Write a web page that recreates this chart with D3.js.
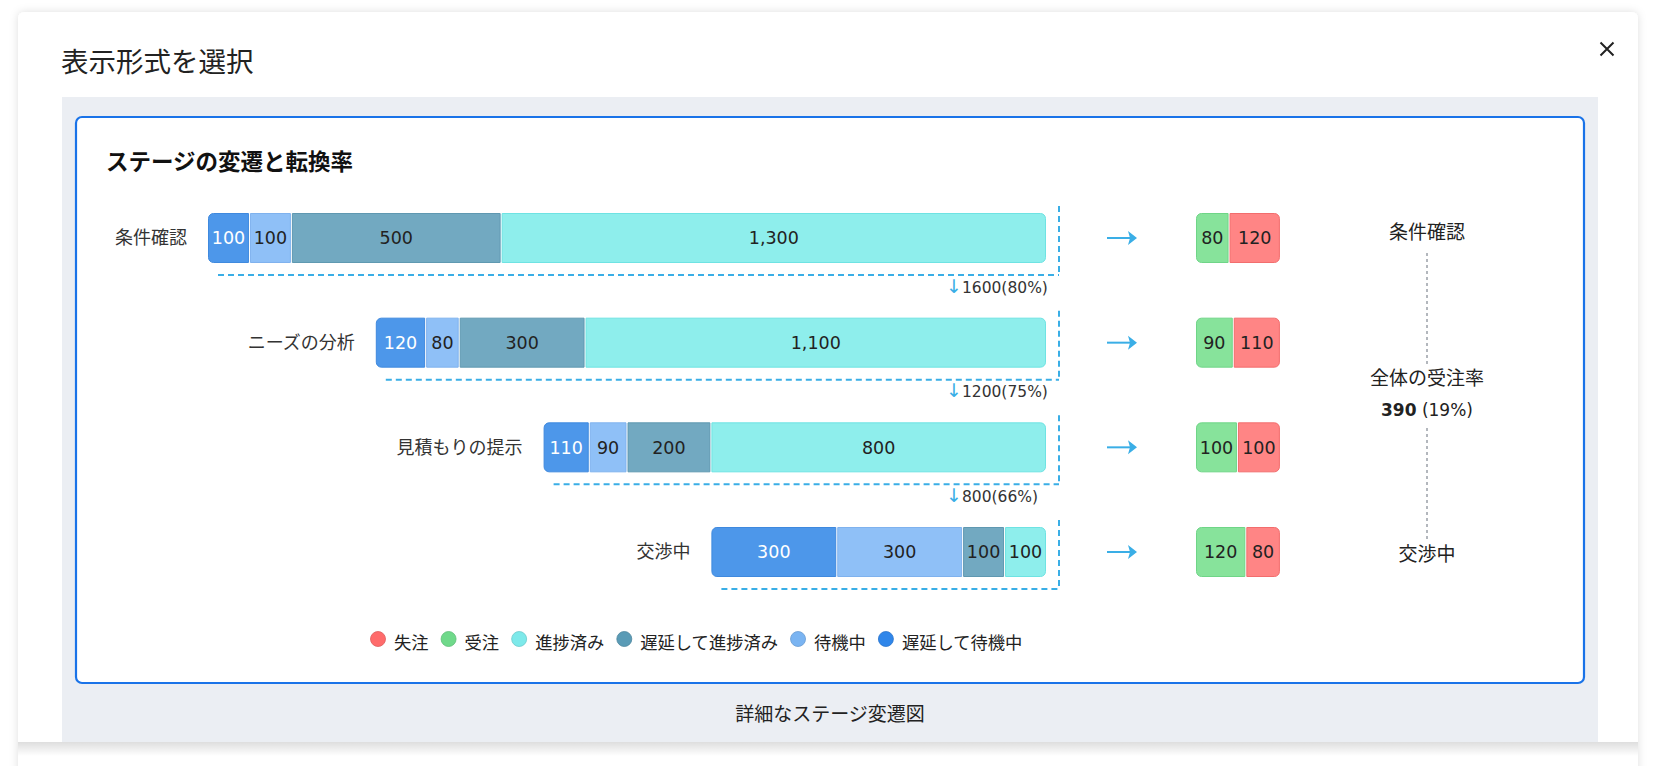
<!DOCTYPE html>
<html><head><meta charset="utf-8">
<script src="https://cdn.jsdelivr.net/npm/d3@7"></script>
<style>
html,body{margin:0;padding:0;background:#fff;overflow:hidden;}
svg{display:block;font-family:"Noto Sans CJK JP","Noto Sans",sans-serif;}
.num{font-family:"DejaVu Sans","Noto Sans CJK JP",sans-serif;}
</style></head><body>
<svg id="c" width="1656" height="766"></svg>
<script>
// ---- data ----
const stages = ["条件確認", "ニーズの分析", "見積もりの提示", "交渉中"];
const delayedWaiting = [100, 120, 110, 300];   // 遅延して待機中
const waiting = [100, 80, 90, 300];            // 待機中
const delayedProgressed = [500, 300, 200, 100];// 遅延して進捗済み
const progressed = [1300, 1100, 800, 100];     // 進捗済み
const won = [80, 90, 100, 120];                // 受注
const lost = [120, 110, 100, 80];              // 失注
const conversionCounts = [1600, 1200, 800];
const conversionRates = ["80%", "75%", "66%"];
const overallWon = 390;
const overallRate = "19%";
const overallTitle = "全体の受注率";
const pageTitle = "表示形式を選択";
const chartTitle = "ステージの変遷と転換率";
const footerText = "詳細なステージ変遷図";
const legendNames = ["失注", "受注", "進捗済み", "遅延して進捗済み", "待機中", "遅延して待機中"];

// ---- styles ----
const segFill = ["#4d97ea", "#8fc0f7", "#72a9c1", "#8eeeec"];
const segStroke = ["#3f89de", "#7fb2ee", "#5f98b1", "#6ee3e3"];
const segText = ["#ffffff", "#222", "#222", "#222"];
const wonFill = "#87e39b", wonStroke = "#6fd587";
const lostFill = "#ff8585", lostStroke = "#f26d6d";
const legendColors = ["#ff6b6b", "#6fd98a", "#7de9ea", "#5a9bb6", "#7ab4f2", "#2f86ea"];
const accent = "#3aaee6";

const svg = d3.select("#c");
const defs = svg.append("defs");
const f = defs.append("filter").attr("id", "sh").attr("x", "-5%").attr("y", "-5%").attr("width", "110%").attr("height", "110%");
f.append("feDropShadow").attr("dx", 0).attr("dy", 0).attr("stdDeviation", 4).attr("flood-color", "#000").attr("flood-opacity", 0.13);
const g1 = defs.append("linearGradient").attr("id", "bs").attr("x1", 0).attr("y1", 0).attr("x2", 0).attr("y2", 1);
g1.append("stop").attr("offset", 0).attr("stop-color", "#000").attr("stop-opacity", 0.13);
g1.append("stop").attr("offset", 1).attr("stop-color", "#000").attr("stop-opacity", 0);

// card
svg.append("rect").attr("x", 18).attr("y", 12).attr("width", 1620).attr("height", 790).attr("rx", 6).attr("fill", "#fff").attr("filter", "url(#sh)");
svg.append("text").attr("x", 61).attr("y", 72).attr("font-size", 27.5).attr("fill", "#222").text(pageTitle);
// close
const cx = 1607, cy = 49, cs = 6.5;
svg.append("path").attr("d", `M${cx-cs},${cy-cs}L${cx+cs},${cy+cs}M${cx+cs},${cy-cs}L${cx-cs},${cy+cs}`).attr("stroke", "#222").attr("stroke-width", 2);

// gray area
svg.append("rect").attr("x", 62).attr("y", 97).attr("width", 1536).attr("height", 645).attr("fill", "#ebeef3");
svg.append("rect").attr("x", 18).attr("y", 742).attr("width", 1620).attr("height", 14).attr("fill", "url(#bs)");
// blue box
svg.append("rect").attr("x", 76).attr("y", 117).attr("width", 1508).attr("height", 566).attr("rx", 6)
  .attr("fill", "#fff").attr("stroke", "#1a73e8").attr("stroke-width", 2.2);
svg.append("text").attr("x", 106).attr("y", 170).attr("font-size", 22.5).attr("font-weight", "bold").attr("fill", "#111").text(chartTitle);

// ---- scales ----
const totals = stages.map((s, i) => delayedWaiting[i] + waiting[i] + delayedProgressed[i] + progressed[i]);
const x = d3.scaleLinear().domain([0, d3.max(totals)]).range([0, 839]);
const xRight = 1047;
const y = d3.scaleBand().domain(stages).range([213, 577]).paddingInner(1 - 50 / 104.7).paddingOuter(0);
const bh = y.bandwidth();
const fmt = d3.format(",");

function rr(x0, y0, w, h, rl, rr_) {
  return `M${x0+rl},${y0}H${x0+w-rr_}` + (rr_ ? `A${rr_},${rr_} 0 0 1 ${x0+w},${y0+rr_}` : "") +
    `V${y0+h-rr_}` + (rr_ ? `A${rr_},${rr_} 0 0 1 ${x0+w-rr_},${y0+h}` : "") +
    `H${x0+rl}` + (rl ? `A${rl},${rl} 0 0 1 ${x0},${y0+h-rl}` : "") +
    `V${y0+rl}` + (rl ? `A${rl},${rl} 0 0 1 ${x0+rl},${y0}` : "") + "Z";
}

const seriesVals = [delayedWaiting, waiting, delayedProgressed, progressed];
const dash = "6,4";
const vLineX = 1059;
const rows = svg.append("g");
stages.forEach((s, i) => {
  const top = y(s);
  const start = xRight - x(totals[i]);
  // label
  rows.append("text").attr("x", start - 21).attr("y", top + bh / 2).attr("dy", "0.35em")
    .attr("text-anchor", "end").attr("font-size", 18).attr("fill", "#333").text(s);
  // segments
  let cum = 0;
  seriesVals.forEach((arr, k) => {
    const v = arr[i];
    const x0 = start + x(cum);
    const w = x(v);
    const rl = k === 0 ? 5 : 0, rrr = k === seriesVals.length - 1 ? 5 : 0;
    rows.append("path").attr("d", rr(x0 + 0.5, top + 0.5, w - 2, bh - 1, rl, rrr))
      .attr("fill", segFill[k]).attr("stroke", segStroke[k]).attr("stroke-width", 1);
    rows.append("text").attr("class", "num").attr("x", x0 + w / 2 - 0.5).attr("y", top + bh / 2).attr("dy", "0.36em")
      .attr("text-anchor", "middle").attr("font-size", 17.5).attr("fill", segText[k]).text(fmt(v));
    cum += v;
  });
  // dashed bracket
  rows.append("line").attr("x1", vLineX).attr("x2", vLineX).attr("y1", top - 7).attr("y2", top + bh + 12)
    .attr("stroke", accent).attr("stroke-width", 2).attr("stroke-dasharray", dash);
  rows.append("line").attr("x1", start + 10).attr("x2", vLineX).attr("y1", top + bh + 12).attr("y2", top + bh + 12)
    .attr("stroke", accent).attr("stroke-width", 2).attr("stroke-dasharray", dash);
  // conversion label
  if (i < conversionCounts.length) {
    const t = rows.append("text").attr("class", "num").attr("x", 946).attr("y", top + bh + 24).attr("dy", "0.36em").attr("font-size", 15.5).attr("fill", "#333");
    t.append("tspan").attr("fill", accent).attr("font-size", 19).text("↓");
    t.append("tspan").text(`${conversionCounts[i]}(${conversionRates[i]})`);
  }
  // arrow right
  const ay = top + bh / 2;
  rows.append("line").attr("x1", 1107).attr("x2", 1131).attr("y1", ay).attr("y2", ay).attr("stroke", accent).attr("stroke-width", 2);
  rows.append("path").attr("d", `M1128,${ay-7}L1137,${ay}L1128,${ay+7}L1130,${ay}Z`).attr("fill", accent);
  // won/lost
  const ws = 1196;
  const ww = x(won[i]), lw = x(lost[i]);
  rows.append("path").attr("d", rr(ws + 0.5, top + 0.5, ww - 2, bh - 1, 5, 0)).attr("fill", wonFill).attr("stroke", wonStroke);
  rows.append("text").attr("class", "num").attr("x", ws + ww / 2 - 0.5).attr("y", top + bh / 2).attr("dy", "0.36em").attr("text-anchor", "middle")
    .attr("font-size", 17.5).attr("fill", "#222").text(fmt(won[i]));
  rows.append("path").attr("d", rr(ws + ww + 0.5, top + 0.5, lw - 1, bh - 1, 0, 5)).attr("fill", lostFill).attr("stroke", lostStroke);
  rows.append("text").attr("class", "num").attr("x", ws + ww + lw / 2).attr("y", top + bh / 2).attr("dy", "0.36em").attr("text-anchor", "middle")
    .attr("font-size", 17.5).attr("fill", "#222").text(fmt(lost[i]));
});

// right summary
const sx = 1427;
const sg = svg.append("g").attr("text-anchor", "middle").attr("font-size", 19).attr("fill", "#222");
sg.append("text").attr("x", sx).attr("y", 232).attr("dy", "0.36em").text(stages[0]);
sg.append("text").attr("x", sx).attr("y", 378).attr("dy", "0.36em").text(overallTitle);
const ot = sg.append("text").attr("class", "num").attr("x", sx).attr("y", 410).attr("dy", "0.36em").attr("font-size", 17);
ot.append("tspan").attr("font-weight", "bold").text(overallWon);
ot.append("tspan").text(` (${overallRate})`);
sg.append("text").attr("x", sx).attr("y", 554).attr("dy", "0.36em").text(stages[stages.length - 1]);
[[253, 364], [428, 539]].forEach(([a, b]) => {
  svg.append("line").attr("x1", sx).attr("x2", sx).attr("y1", a).attr("y2", b)
    .attr("stroke", "#9aa0a8").attr("stroke-width", 1.5).attr("stroke-dasharray", "3,3");
});

// legend
let lx = 378;
const lg = svg.append("g");
legendNames.forEach((n, k) => {
  lg.append("circle").attr("cx", lx).attr("cy", 639).attr("r", 7.5).attr("fill", legendColors[k])
    .attr("stroke", d3.color(legendColors[k]).darker(0.4)).attr("stroke-width", 0.8);
  const t = lg.append("text").attr("x", lx + 16).attr("y", 643).attr("dy", "0.36em").attr("font-size", 17.3).attr("fill", "#222").text(n);
  lx = lx + 16 + t.node().getComputedTextLength() + 20;
});

// footer
svg.append("text").attr("x", 830).attr("y", 714).attr("dy", "0.36em").attr("text-anchor", "middle")
  .attr("font-size", 19).attr("fill", "#222").text(footerText);
</script>
</body></html>
